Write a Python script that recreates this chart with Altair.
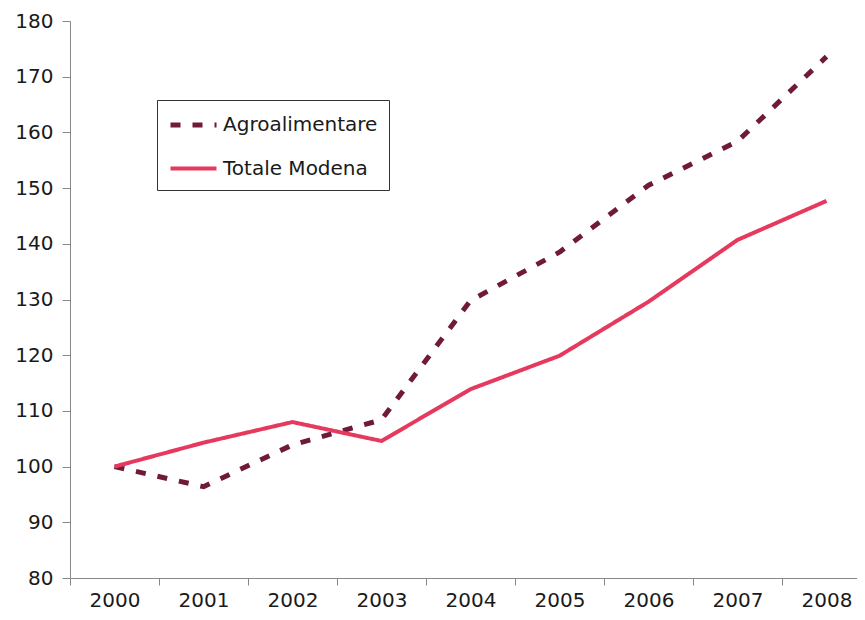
import altair as alt
import pandas as pd

years = ["2000", "2001", "2002", "2003", "2004", "2005", "2006", "2007", "2008"]
agro = [100, 96.4, 103.9, 108.4, 129.8, 138.5, 150.5, 158.4, 173.6]
totale = [100, 104.3, 108.0, 104.6, 113.9, 119.9, 129.6, 140.7, 147.7]
series_names = ["Agroalimentare", "Totale Modena"]

rows = []
for y, a in zip(years, agro):
    rows.append({"anno": y, "valore": a, "serie": series_names[0]})
for y, t in zip(years, totale):
    rows.append({"anno": y, "valore": t, "serie": series_names[1]})
df = pd.DataFrame(rows)

font = "DejaVu Sans"

chart = alt.Chart(df).mark_line(strokeCap="butt", strokeJoin="round").encode(
    x=alt.X("anno:N", sort=years, title=None,
            scale=alt.Scale(paddingInner=0, paddingOuter=0, range=[0, 801]),
            axis=alt.Axis(labelAngle=0, tickBand="extent", tickSize=7,
                          labelPadding=5, domainColor="#888888", tickColor="#888888",
                          labelFont=font, labelFontSize=20, labelColor="#1a1a1a",
                          grid=False)),
    y=alt.Y("valore:Q", title=None,
            scale=alt.Scale(domain=[80, 180], nice=False, zero=False),
            axis=alt.Axis(values=list(range(80, 181, 10)), tickSize=8, labelPadding=9,
                          domainColor="#888888", tickColor="#888888",
                          labelFont=font, labelFontSize=20, labelColor="#1a1a1a",
                          grid=False)),
    color=alt.Color("serie:N",
                    scale=alt.Scale(domain=series_names, range=["#6E1A38", "#E5395E"]),
                    legend=alt.Legend(title=None, orient="none", legendX=87, legendY=79,
                                      strokeColor="#333333", padding=11,
                                      symbolType="M-1,0H3", symbolSize=529,
                                      symbolStrokeWidth=5, labelOffset=27,
                                      rowPadding=20, labelFont=font, labelFontSize=20,
                                      labelColor="#1a1a1a", fillColor="white")),
    strokeDash=alt.StrokeDash("serie:N",
                              scale=alt.Scale(domain=series_names, range=[[10, 12], [1, 0]]),
                              legend=None),
    strokeWidth=alt.StrokeWidth("serie:N",
                                scale=alt.Scale(domain=series_names, range=[5, 4]),
                                legend=None),
    order=alt.Order("anno:N"),
).properties(
    width=787,
    height=557,
    autosize=alt.AutoSizeParams(type="none"),
    padding={"left": 62, "top": 13, "right": 0, "bottom": 34},
).configure_view(stroke=None)

chart.save("out.html", embed_options={"renderer": "svg", "actions": False})
